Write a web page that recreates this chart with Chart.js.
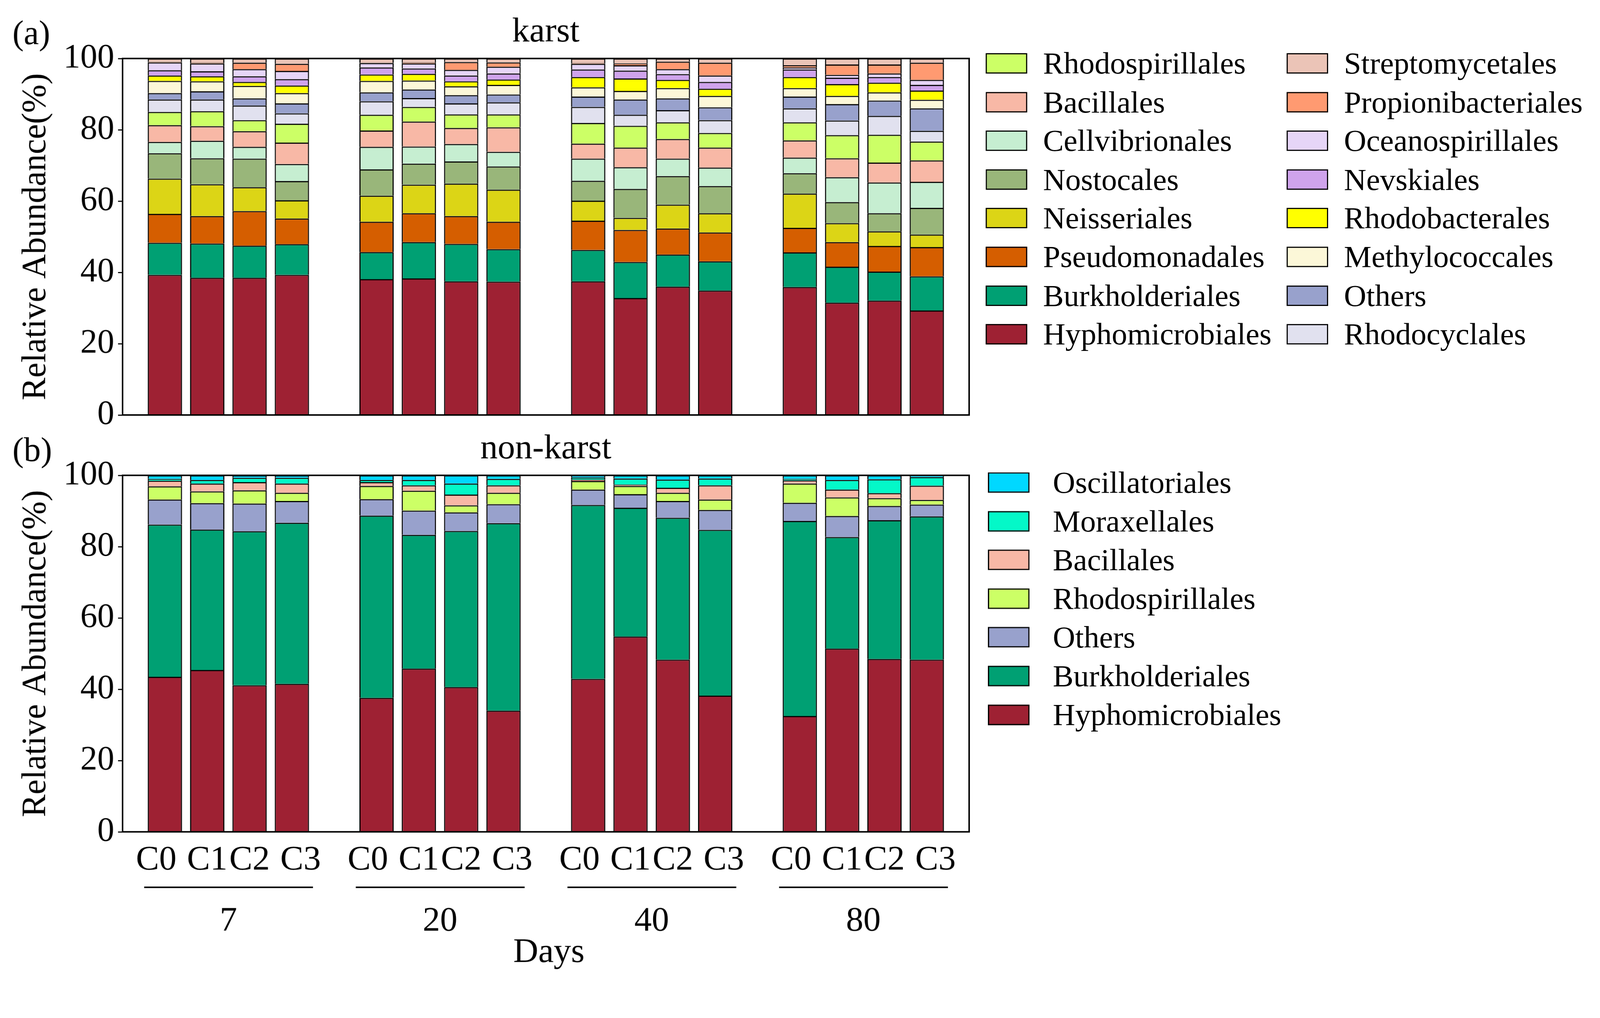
<!DOCTYPE html>
<html><head><meta charset="utf-8">
<script src="https://cdn.jsdelivr.net/npm/chart.js@4.4.1/dist/chart.umd.min.js"></script>
<style>
html,body{margin:0;padding:0;background:#fff;overflow:hidden;}
#wrap{position:absolute;left:0;top:0;width:4243px;height:2605px;transform-origin:0 0;font-family:"Liberation Serif","Times New Roman",serif;background:#fff;}
canvas{position:absolute;left:0;}
.lt{position:absolute;height:100px;line-height:100px;font-size:82px;color:#000;white-space:nowrap;}
.sw{position:absolute;box-sizing:border-box;width:110px;height:54px;border:3px solid #000;}
</style></head><body>
<div id="wrap">
<canvas id="cA" width="2650" height="1180" style="top:0px"></canvas>
<canvas id="cB" width="2650" height="1500" style="top:1105px"></canvas>
<div id="legA"></div><div id="legB"></div>
</div>
<script>
// ---------- categories ----------
const days = ['7', '20', '40', '80'];
const treatments = ['C0', 'C1', 'C2', 'C3'];
const tickLabels = ['C0  ', 'C1', 'C2', '  C3'];
const yTicks = [0, 20, 40, 60, 80, 100];

// ---------- karst series (bars: 7d C0..C3, 20d C0..C3, 40d C0..C3, 80d C0..C3) ----------
const kHyphomicrobiales    = [39.3, 38.5, 38.5, 39.3, 38.1, 38.3, 37.5, 37.4, 37.5, 32.8, 36.0, 34.9, 35.9, 31.5, 32.1, 29.3];
const kBurkholderiales     = [9.0, 9.6, 9.0, 8.6, 7.6, 10.2, 10.5, 9.1, 8.8, 10.1, 9.0, 8.2, 9.7, 10.1, 8.1, 9.6];
const kPseudomonadales     = [8.1, 7.7, 9.7, 7.2, 8.5, 8.1, 7.8, 7.7, 8.2, 9.0, 7.3, 8.1, 6.9, 6.9, 7.2, 8.2];
const kNeisseriales        = [9.9, 8.9, 6.7, 5.1, 7.3, 8.0, 9.1, 9.0, 5.6, 3.4, 6.7, 5.4, 9.6, 5.3, 4.1, 3.5];
const kNostocales          = [7.1, 7.3, 8.0, 5.4, 7.4, 5.9, 6.2, 6.5, 5.6, 8.1, 8.0, 7.6, 5.7, 5.9, 5.1, 7.5];
const kCellvibrionales     = [3.2, 4.9, 3.3, 4.8, 6.3, 4.8, 4.9, 4.1, 6.2, 6.1, 4.9, 5.2, 4.4, 7.0, 8.6, 7.3];
const kBacillales          = [4.7, 4.1, 4.4, 6.0, 4.6, 7.0, 4.5, 6.9, 4.2, 5.5, 5.5, 5.6, 4.8, 5.3, 5.6, 6.0];
const kRhodospirillales    = [3.7, 4.2, 3.1, 5.3, 4.4, 4.1, 3.8, 3.6, 5.8, 6.1, 4.7, 4.1, 5.1, 6.5, 7.8, 5.3];
const kRhodocyclales       = [3.5, 3.3, 4.1, 2.9, 3.8, 2.5, 3.1, 3.4, 4.5, 3.1, 3.4, 3.6, 3.9, 4.1, 5.3, 3.0];
const kOthers              = [1.8, 2.3, 2.0, 2.8, 2.5, 2.4, 2.3, 2.2, 2.9, 4.3, 3.3, 3.6, 3.3, 4.6, 4.3, 6.3];
const kMethylococcales     = [3.4, 2.8, 3.5, 2.9, 3.2, 2.5, 2.5, 2.7, 2.6, 2.4, 2.9, 3.2, 2.4, 2.3, 2.3, 2.4];
const kRhodobacterales     = [1.5, 1.4, 1.1, 2.1, 1.8, 1.9, 1.4, 1.5, 2.9, 3.5, 2.3, 2.0, 3.1, 3.3, 2.7, 2.6];
const kNevskiales          = [1.5, 1.4, 1.6, 1.8, 2.0, 1.5, 1.6, 1.7, 2.1, 2.2, 1.6, 1.9, 2.1, 1.8, 1.6, 1.6];
const kOceanospirillales   = [2.2, 2.2, 2.0, 2.3, 1.2, 1.4, 1.6, 1.9, 1.6, 1.5, 1.4, 1.8, 0.6, 0.8, 1.0, 1.4];
const kPropionibacteriales = [0.2, 0.2, 1.8, 2.0, 0.1, 0.3, 2.2, 1.2, 0.2, 0.5, 2.1, 3.6, 0.6, 2.9, 2.5, 4.8];
const kStreptomycetales    = [0.9, 1.2, 1.2, 1.5, 1.2, 1.1, 1.0, 1.1, 1.3, 1.4, 0.9, 1.2, 1.9, 1.7, 1.7, 1.2];

// ---------- non-karst series ----------
const nHyphomicrobiales = [43.5, 45.4, 41.1, 41.5, 37.6, 45.8, 40.6, 34.0, 42.9, 54.8, 48.3, 38.2, 32.5, 51.4, 48.5, 48.3];
const nBurkholderiales  = [42.7, 39.4, 43.2, 45.2, 51.1, 37.5, 43.8, 52.6, 48.8, 36.1, 39.8, 46.5, 54.7, 31.3, 38.9, 40.2];
const nOthers           = [7.0, 7.4, 7.8, 6.1, 4.6, 6.8, 5.2, 5.3, 4.3, 3.8, 4.7, 5.6, 5.1, 5.9, 4.0, 3.3];
const nRhodospirillales = [3.7, 3.3, 3.7, 2.3, 3.7, 5.6, 2.0, 3.2, 2.4, 2.3, 2.3, 2.9, 5.4, 5.2, 2.2, 1.3];
const nBacillales       = [1.6, 2.2, 2.3, 2.6, 1.1, 1.5, 3.0, 2.1, 0.4, 0.4, 1.4, 4.0, 0.9, 2.2, 1.4, 4.0];
const nMoraxellales     = [0.5, 1.0, 1.2, 1.6, 0.6, 1.5, 3.1, 1.8, 0.6, 1.7, 2.3, 1.9, 0.4, 2.7, 3.9, 2.4];
const nOscillatoriales  = [1.0, 1.3, 0.7, 0.7, 1.3, 1.3, 2.3, 1.0, 0.6, 0.9, 1.2, 0.9, 1.0, 1.3, 1.1, 0.5];

// ---------- colours ----------
const colors = {
  Hyphomicrobiales: '#9E2133', Burkholderiales: '#00A073', Pseudomonadales: '#D55E00',
  Neisseriales: '#DCD516', Nostocales: '#99B67A', Cellvibrionales: '#C6EED1',
  Bacillales: '#F8B8A6', Rhodospirillales: '#CCFF66', Rhodocyclales: '#E1E1EF',
  Others: '#98A1CC', Methylococcales: '#FCF7D8', Rhodobacterales: '#FFFF00',
  Nevskiales: '#CFA3EC', Oceanospirillales: '#E6D5F7', Propionibacteriales: '#FF9A71',
  Streptomycetales: '#EBC4B7', Moraxellales: '#04F8C8', Oscillatoriales: '#00D8FF'
};

// stacking order bottom -> top
const karstSeries = [
  ['Hyphomicrobiales', kHyphomicrobiales], ['Burkholderiales', kBurkholderiales],
  ['Pseudomonadales', kPseudomonadales], ['Neisseriales', kNeisseriales],
  ['Nostocales', kNostocales], ['Cellvibrionales', kCellvibrionales],
  ['Bacillales', kBacillales], ['Rhodospirillales', kRhodospirillales],
  ['Rhodocyclales', kRhodocyclales], ['Others', kOthers],
  ['Methylococcales', kMethylococcales], ['Rhodobacterales', kRhodobacterales],
  ['Nevskiales', kNevskiales], ['Oceanospirillales', kOceanospirillales],
  ['Propionibacteriales', kPropionibacteriales], ['Streptomycetales', kStreptomycetales]
];
const nonKarstSeries = [
  ['Hyphomicrobiales', nHyphomicrobiales], ['Burkholderiales', nBurkholderiales],
  ['Others', nOthers], ['Rhodospirillales', nRhodospirillales],
  ['Bacillales', nBacillales], ['Moraxellales', nMoraxellales],
  ['Oscillatoriales', nOscillatoriales]
];

const karstLegendCol1 = ['Rhodospirillales','Bacillales','Cellvibrionales','Nostocales','Neisseriales','Pseudomonadales','Burkholderiales','Hyphomicrobiales'];
const karstLegendCol2 = ['Streptomycetales','Propionibacteriales','Oceanospirillales','Nevskiales','Rhodobacterales','Methylococcales','Others','Rhodocyclales'];
const nonKarstLegend = ['Oscillatoriales','Moraxellales','Bacillales','Rhodospirillales','Others','Burkholderiales','Hyphomicrobiales'];

// ---------- helpers ----------
const FONT = '"Liberation Serif", "Times New Roman", serif';
const xLabels = [''];
days.forEach(() => { tickLabels.forEach(t => xLabels.push(t)); xLabels.push(''); });
function slotData(arr) {
  const out = new Array(xLabels.length).fill(null);
  arr.forEach((v, k) => { out[1 + k + Math.floor(k / 4)] = v; });
  return out;
}
function makeDatasets(series) {
  return series.map(([name, arr]) => ({
    label: name, data: slotData(arr), backgroundColor: colors[name],
    borderColor: '#000', borderWidth: 3, barPercentage: 1, categoryPercentage: 0.81
  }));
}

const decor = {
  id: 'decor',
  afterDraw(chart, args, opts) {
    const { ctx, chartArea: a } = chart;
    ctx.save();
    ctx.strokeStyle = '#000'; ctx.lineWidth = 4;
    ctx.strokeRect(a.left, a.top, a.right - a.left, a.bottom - a.top);
    ctx.fillStyle = '#000';
    ctx.textBaseline = 'alphabetic';
    ctx.font = '92px ' + FONT;
    ctx.textAlign = 'center';
    ctx.fillText(opts.title, (a.left + a.right) / 2, a.top - 45);
    ctx.font = '90px ' + FONT;
    ctx.textAlign = 'left';
    ctx.fillText(opts.tag, 33, a.top - 38);
    if (opts.groups) {
      const x = chart.scales.x;
      ctx.textAlign = 'center';
      ctx.font = '92px ' + FONT;
      days.forEach((d, g) => {
        const i0 = 1 + g * 5, i3 = i0 + 3;
        const p0 = x.getPixelForValue(i0), p3 = x.getPixelForValue(i3);
        ctx.lineWidth = 4;
        ctx.beginPath(); ctx.moveTo(p0 - 55, a.bottom + 147); ctx.lineTo(p3 + 56, a.bottom + 147); ctx.stroke();
        ctx.fillText(d, (p0 + p3) / 2, a.bottom + 262);
      });
      ctx.fillText('Days', (a.left + a.right) / 2 + 8, a.bottom + 345);
    }
    ctx.restore();
  }
};

function makeChart(id, series, title, tag, showX, xHeight) {
  return new Chart(document.getElementById(id), {
    type: 'bar',
    data: { labels: xLabels, datasets: makeDatasets(series) },
    plugins: [decor],
    options: {
      responsive: false, animation: false,
      layout: { padding: { top: 155, right: 80, left: 0, bottom: 0 } },
      plugins: { legend: { display: false }, tooltip: { enabled: false },
                 decor: { title: title, tag: tag, groups: showX } },
      scales: {
        x: {
          stacked: true, offset: false,
          grid: { display: false, drawTicks: false },
          border: { display: true, color: '#000', width: 4 },
          ticks: { display: showX, autoSkip: false, maxRotation: 0, minRotation: 0,
                   padding: 21, color: '#000', font: { family: FONT, size: 92 } },
          afterFit(s) { s.height = xHeight; }
        },
        y: {
          stacked: true, min: 0, max: 100,
          afterBuildTicks(s) { s.ticks = yTicks.map(v => ({ value: v })); },
          grid: { display: true, drawOnChartArea: false, drawTicks: true, tickLength: 12, color: '#000', lineWidth: 3 },
          border: { display: true, color: '#000', width: 4 },
          ticks: { padding: 10, color: '#000', font: { family: FONT, size: 90 } },
          title: { display: true, text: 'Relative Abundance(%)', color: '#000',
                   font: { family: FONT, size: 90 }, padding: { top: 42, bottom: 0 } },
          afterFit(s) { s.width = 325; }
        }
      }
    }
  });
}

function buildLegend(container, names, boxLeft, textLeft, y0, step) {
  const el = document.getElementById(container);
  names.forEach((n, i) => {
    const cy = y0 + i * step;
    const sw = document.createElement('div');
    sw.className = 'sw';
    sw.style.left = boxLeft + 'px'; sw.style.top = (cy - 27) + 'px';
    sw.style.background = colors[n];
    el.appendChild(sw);
    const t = document.createElement('div');
    t.className = 'lt';
    t.style.left = textLeft + 'px'; t.style.top = (cy - 50) + 'px';
    t.textContent = n;
    el.appendChild(t);
  });
}

function fitPage() {
  const w = window.innerWidth || 4243, h = window.innerHeight || 2605;
  const s = Math.min(w / 4243, h / 2605);
  document.getElementById('wrap').style.transform = 'scale(' + s + ')';
}

function draw() {
  fitPage();
  Chart.defaults.font.family = FONT;
  Chart.defaults.color = '#000';
  makeChart('cA', karstSeries, 'karst', '(a)', false, 80);
  makeChart('cB', nonKarstSeries, 'non-karst', '(b)', true, 400);
  buildLegend('legA', karstLegendCol1, 2614, 2766, 168, 102.6);
  buildLegend('legA', karstLegendCol2, 3412, 3564, 168, 102.6);
  buildLegend('legB', nonKarstLegend, 2620, 2792, 1279, 102.6);
}
if (document.fonts && document.fonts.load) {
  document.fonts.load('90px "Liberation Serif"').then(draw, draw);
} else { draw(); }
</script>
</body></html>
